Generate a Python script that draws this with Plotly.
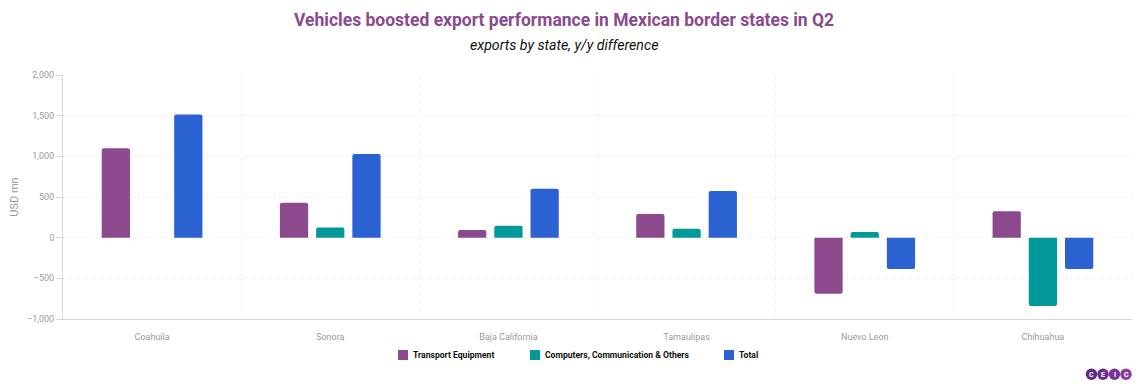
import plotly.graph_objects as go

states = ["Coahuila", "Sonora", "Baja California", "Tamaulipas", "Nuevo Leon", "Chihuahua"]
transport = [1100, 430, 95, 290, -690, 325]
computers = [0, 125, 145, 110, 70, -840]
total = [1515, 1030, 600, 575, -385, -385]

series_names = ["Transport Equipment", "Computers, Communication & Others", "Total"]
colors = ["#8A4A8D", "#03999A", "#2B62D1"]
y_ticks = [-1000, -500, 0, 500, 1000, 1500, 2000]

# page has an 8px body margin; figure is sized so it ends at the window edge
OFF = 8
W, H = 1140 - OFF, 390 - OFF
ML, MT = 63 - OFF, 75 - OFF
MR = W - (1132 - OFF)
MB = H - (319 - OFF)
PW, PH = W - ML - MR, H - MT - MB


def px(x):
    return (x - OFF - ML) / PW


def py(y):
    return (H - MB - (y - OFF)) / PH


fig = go.Figure()
for name, vals, col in zip(series_names, [transport, computers, total], colors):
    fig.add_trace(go.Bar(
        x=states, y=vals, name=name,
        marker=dict(color=col, cornerradius=2, line=dict(width=0)),
        hovertemplate="%{x}: %{y}<extra>" + name + "</extra>",
    ))

fig.update_layout(
    width=W, height=H,
    margin=dict(l=ML, r=MR, t=MT, b=MB, autoexpand=False),
    paper_bgcolor="white", plot_bgcolor="white",
    barmode="group", bargap=0.39, bargroupgap=0.22,
    font=dict(family="Roboto, sans-serif", color="#999999"),
    showlegend=False,
)

fig.add_annotation(
    text="<b>Vehicles boosted export performance in Mexican border states in Q2</b>",
    xref="paper", yref="paper", x=px(564), y=py(20), xanchor="center", yanchor="middle",
    showarrow=False, font=dict(size=17.5, color="#8A4A8D", family="Roboto"),
)
fig.add_annotation(
    text="<i>exports by state, y/y difference</i>", xref="paper", yref="paper",
    x=px(564), y=py(45), xanchor="center", yanchor="middle", showarrow=False,
    font=dict(size=14.2, color="#111111", family="Roboto"),
)

fig.update_xaxes(
    type="category", tickson="boundaries", automargin=False,
    showgrid=True, gridcolor="#e2e2e2", griddash="1px,3px", gridwidth=1,
    showline=True, linecolor="#d8d8d8", linewidth=1,
    ticks="", tickfont=dict(size=9, color="#999999"), ticklabelstandoff=9,
)
fig.update_yaxes(
    range=[-1000, 2000], tickvals=y_ticks, tickformat=",", automargin=False,
    showgrid=True, gridcolor="#e2e2e2", griddash="1px,3px", gridwidth=1,
    zeroline=False,
    showline=True, linecolor="#d8d8d8", linewidth=1, mirror=True,
    ticks="outside", ticklen=6, tickcolor="#d8d8d8",
    tickfont=dict(size=9, color="#999999"),
    title=dict(text="USD mn", font=dict(size=11, color="#999999"), standoff=12),
)

# custom legend
legend_x = [398, 530, 724]
legend_y = 355
for lx, name, col in zip(legend_x, series_names, colors):
    fig.add_shape(type="rect", xref="paper", yref="paper",
                  x0=px(lx), x1=px(lx + 10), y0=py(legend_y + 5), y1=py(legend_y - 5),
                  fillcolor=col, line=dict(width=0), layer="above")
    fig.add_annotation(text="<b>" + name + "</b>", xref="paper", yref="paper",
                       x=px(lx + 13), y=py(legend_y), xanchor="left", yanchor="middle",
                       showarrow=False, font=dict(size=8.6, color="#111111", family="Roboto"))

# CEIC logo
letters = ["C", "E", "I", "C"]
logo_colors = ["#5E2A84", "#6A2D8C", "#7A3496", "#8A3D9E"]
for i, (ch, c) in enumerate(zip(letters, logo_colors)):
    cx = 1091.5 + i * 11.5
    fig.add_shape(type="circle", xref="paper", yref="paper",
                  x0=px(cx - 5.75), x1=px(cx + 5.75), y0=py(380), y1=py(368.5),
                  fillcolor=c, line=dict(width=0), layer="above")
    fig.add_annotation(text="<b>" + ch + "</b>", xref="paper", yref="paper",
                       x=px(cx), y=py(374.5), showarrow=False,
                       xanchor="center", yanchor="middle",
                       font=dict(size=7, color="white", family="Roboto"))

fig.write_html("out.html")
